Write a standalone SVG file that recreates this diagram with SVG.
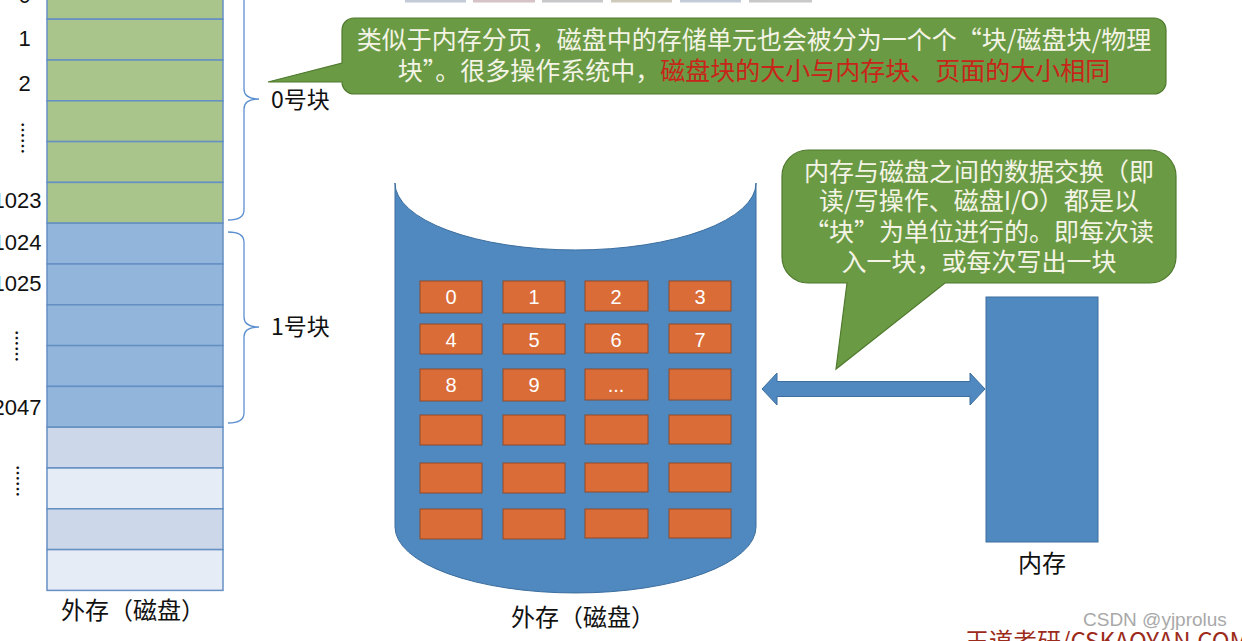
<svg xmlns="http://www.w3.org/2000/svg" width="1242" height="641" viewBox="0 0 1242 641">
<style>
.cell{stroke:#6590C4;stroke-width:1.5}
.g{fill:#A9C58B}
.b{fill:#92B5DB}
.l1{fill:#CCD8E9}
.l2{fill:#E6ECF6}
.num{font-family:"Liberation Sans",Arial,sans-serif;font-size:22px;fill:#111}
.cjk{font-family:"Noto Sans CJK SC","Noto Sans",sans-serif;fill:#111}
.dots{font-family:"Noto Sans CJK SC","Noto Sans",sans-serif;font-size:16px;font-weight:bold;fill:#111}
.brace{fill:none;stroke:#5B8FD0;stroke-width:1.3}
.bubble{fill:#6B9A44;stroke:#4F7A2E;stroke-width:1.2}
.btxt{font-family:"Noto Sans CJK SC","Noto Sans",sans-serif;font-size:25px;fill:#F4F4E6;text-anchor:middle}
.red{fill:#C8251A}
.blk{fill:#DA6C38;stroke:#8E4A2C;stroke-width:1}
.blbl{font-family:"Liberation Sans",Arial,sans-serif;font-size:20px;fill:#fff;text-anchor:middle}
.blue{fill:#4F89C0;stroke:#3C6E9E;stroke-width:1}
</style>

<!-- top strip artefact -->
<g id="topstrip" opacity="0.7">
<rect x="405" y="0" width="61" height="2.5" fill="#A9B6C6"/>
<rect x="473" y="0" width="62" height="2.5" fill="#C6AAB0"/>
<rect x="542" y="0" width="61" height="2.5" fill="#B2B2B6"/>
<rect x="611" y="0" width="61" height="2.5" fill="#BAB6A2"/>
<rect x="680" y="0" width="61" height="2.5" fill="#AAB6CA"/>
<rect x="749" y="0" width="63" height="2.5" fill="#B2B2B2"/>
</g>

<!-- left storage column -->
<g id="disk-column">
<rect class="cell g" x="47" y="-21.6" width="176" height="40.8"/>
<rect class="cell g" x="47" y="19.2" width="176" height="40.8"/>
<rect class="cell g" x="47" y="60" width="176" height="40.8"/>
<rect class="cell g" x="47" y="100.8" width="176" height="40.8"/>
<rect class="cell g" x="47" y="141.6" width="176" height="40.8"/>
<rect class="cell g" x="47" y="182.4" width="176" height="40.8"/>
<rect class="cell b" x="47" y="223.2" width="176" height="40.8"/>
<rect class="cell b" x="47" y="264" width="176" height="40.8"/>
<rect class="cell b" x="47" y="304.8" width="176" height="40.8"/>
<rect class="cell b" x="47" y="345.6" width="176" height="40.8"/>
<rect class="cell b" x="47" y="386.4" width="176" height="40.8"/>
<rect class="cell l1" x="47" y="427.2" width="176" height="40.8"/>
<rect class="cell l2" x="47" y="468" width="176" height="40.8"/>
<rect class="cell l1" x="47" y="508.8" width="176" height="40.8"/>
<rect class="cell l2" x="47" y="549.6" width="176" height="40.8"/>
</g>

<g id="column-labels">
<text class="num" x="24.5" y="2.5" text-anchor="middle">0</text>
<text class="num" x="24.5" y="46" text-anchor="middle">1</text>
<text class="num" x="24.5" y="91" text-anchor="middle">2</text>
<text class="num" x="41.5" y="208" text-anchor="end">1023</text>
<text class="num" x="41.5" y="250" text-anchor="end">1024</text>
<text class="num" x="41.5" y="291" text-anchor="end">1025</text>
<text class="num" x="41.5" y="415" text-anchor="end">2047</text>
<text class="dots" transform="translate(16.5,122) rotate(90)">……</text>
<text class="dots" transform="translate(11,330) rotate(90)">……</text>
<text class="dots" transform="translate(12,465) rotate(90)">……</text>
<text class="cjk" font-size="24" x="133" y="619" text-anchor="middle">外存（磁盘）</text>
</g>

<!-- braces -->
<g id="braces">
<path class="brace" d="M228,220 Q244,220 244,210 L244,109 Q244,99 259,99 Q244,99 244,89 L244,-10 Q244,-20 228,-20"/>
<path class="brace" d="M228,423 Q244,423 244,413 L244,337 Q244,327 259,327 Q244,327 244,317 L244,242 Q244,232 228,232"/>
<text class="cjk" font-size="23" x="271" y="108">0号块</text>
<text class="cjk" font-size="23" x="271" y="335">1号块</text>
</g>

<!-- callout 1 -->
<g id="callout-1">
<path class="bubble" d="M354,18 H1154 A12,12 0 0 1 1166,30 V82 A12,12 0 0 1 1154,94 H354 A12,12 0 0 1 342,82 L268,82 L342,63 V30 A12,12 0 0 1 354,18 Z"/>
<text class="btxt" x="754" y="49">类似于内存分页，磁盘中的存储单元也会被分为一个个“块/磁盘块/物理</text>
<text class="btxt" x="754" y="80">块”。很多操作系统中，<tspan class="red">磁盘块的大小与内存块、页面的大小相同</tspan></text>
</g>

<!-- disk cylinder -->
<g id="disk-cylinder">
<path class="blue" d="M395,183 L395,527 A180.5,66 0 0 0 756,527 L756,183 A180.5,67 0 0 1 395,183 Z"/>
<g id="blocks">
<rect class="blk" x="420" y="281" width="62" height="32"/>
<rect class="blk" x="503" y="281" width="62" height="32"/>
<rect class="blk" x="585" y="281" width="63" height="30"/>
<rect class="blk" x="669" y="281" width="62" height="30"/>
<rect class="blk" x="420" y="324" width="62" height="30"/>
<rect class="blk" x="503" y="324" width="62" height="30"/>
<rect class="blk" x="585" y="324" width="63" height="29"/>
<rect class="blk" x="669" y="324" width="62" height="29"/>
<rect class="blk" x="420" y="369" width="62" height="32"/>
<rect class="blk" x="503" y="369" width="62" height="32"/>
<rect class="blk" x="585" y="369" width="63" height="31"/>
<rect class="blk" x="669" y="369" width="62" height="31"/>
<rect class="blk" x="420" y="415" width="62" height="30"/>
<rect class="blk" x="503" y="415" width="62" height="30"/>
<rect class="blk" x="585" y="415" width="63" height="29"/>
<rect class="blk" x="669" y="415" width="62" height="29"/>
<rect class="blk" x="420" y="463" width="62" height="30"/>
<rect class="blk" x="503" y="463" width="62" height="30"/>
<rect class="blk" x="585" y="463" width="63" height="29"/>
<rect class="blk" x="669" y="463" width="62" height="29"/>
<rect class="blk" x="420" y="509" width="62" height="30"/>
<rect class="blk" x="503" y="509" width="62" height="30"/>
<rect class="blk" x="585" y="509" width="63" height="29"/>
<rect class="blk" x="669" y="509" width="62" height="29"/>
<text class="blbl" x="451" y="304">0</text>
<text class="blbl" x="534" y="304">1</text>
<text class="blbl" x="616" y="304">2</text>
<text class="blbl" x="700" y="304">3</text>
<text class="blbl" x="451" y="347">4</text>
<text class="blbl" x="534" y="347">5</text>
<text class="blbl" x="616" y="347">6</text>
<text class="blbl" x="700" y="347">7</text>
<text class="blbl" x="451" y="392">8</text>
<text class="blbl" x="534" y="392">9</text>
<text class="blbl" x="616" y="392">...</text>
</g>
<text class="cjk" font-size="24" x="583" y="626" text-anchor="middle">外存（磁盘）</text>
</g>

<!-- connector -->
<g id="connectors">
<path class="blue" d="M762,389 L777,373 V381.5 H970 V373 L985,389 L970,405 V396.5 H777 V405 Z"/>
</g>

<!-- memory -->
<g id="memory">
<rect class="blue" x="986" y="297" width="112" height="245"/>
<text class="cjk" font-size="24" x="1042" y="572" text-anchor="middle">内存</text>
</g>

<!-- callout 2 -->
<g id="callout-2">
<path class="bubble" d="M808,150 H1150 A26,26 0 0 1 1176,176 V257 A26,26 0 0 1 1150,283 H945 L836,369 L847,283 H808 A26,26 0 0 1 782,257 V176 A26,26 0 0 1 808,150 Z"/>
<text class="btxt" x="979" y="181">内存与磁盘之间的数据交换（即</text>
<text class="btxt" x="979" y="210">读/写操作、磁盘I/O）都是以</text>
<text class="btxt" x="979" y="241">“块”为单位进行的。即每次读</text>
<text class="btxt" x="979" y="271">入一块，或每次写出一块</text>
</g>

<!-- footer -->
<g id="footer">
<text x="1083" y="626" font-family="Liberation Sans,Arial,sans-serif" font-size="19" fill="#9A9A9A" opacity="0.85">CSDN @yjprolus</text>
<text x="965" y="650" font-family="Noto Sans CJK SC,Liberation Sans,sans-serif" font-size="24" fill="#9C2B1B">王道考研/CSKAOYAN.COM</text>
</g>
</svg>
